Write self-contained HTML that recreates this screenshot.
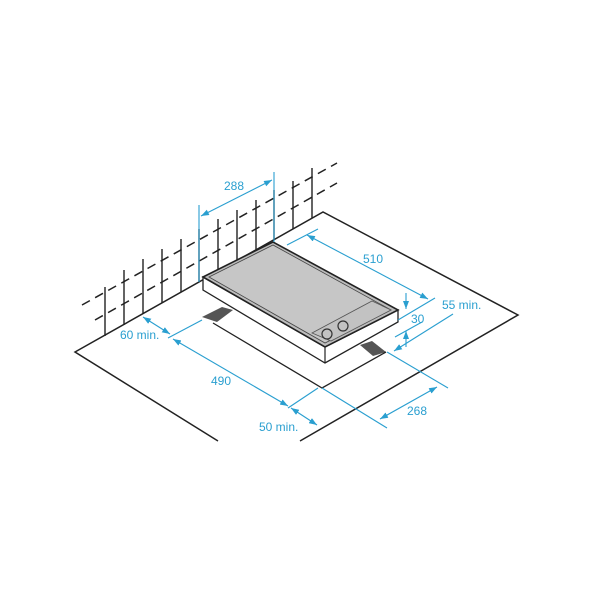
<!DOCTYPE html>
<html><head><style>html,body{margin:0;padding:0;background:#fff}svg{display:block}</style></head>
<body>
<svg width="600" height="600" viewBox="0 0 600 600" xmlns="http://www.w3.org/2000/svg" font-family="Liberation Sans, sans-serif">
<defs>
<marker id="a" markerWidth="8" markerHeight="6" refX="8" refY="3" orient="auto-start-reverse" markerUnits="userSpaceOnUse"><path d="M0,0 L8,3 L0,6z" fill="#2a9fd0"/></marker>
</defs>
<g stroke="#222" stroke-width="1.5" fill="none">
<polyline points="218,441 75,352 323,212 518,315 300,441"/>
<line x1="82" y1="305" x2="337" y2="163" stroke-dasharray="9,6"/>
<line x1="95" y1="320" x2="337" y2="183" stroke-dasharray="9,6"/>
</g>
<g stroke="#222" stroke-width="1.4">
<line x1="105" y1="336" x2="105" y2="287"/>
<line x1="124" y1="325" x2="124" y2="270"/>
<line x1="143" y1="314" x2="143" y2="259"/>
<line x1="162" y1="303" x2="162" y2="249"/>
<line x1="181" y1="292" x2="181" y2="239"/>
<line x1="199" y1="282" x2="199" y2="229"/>
<line x1="218" y1="271" x2="218" y2="219"/>
<line x1="237" y1="261" x2="237" y2="210"/>
<line x1="256" y1="250" x2="256" y2="200"/>
<line x1="274" y1="240" x2="274" y2="190"/>
<line x1="293" y1="229" x2="293" y2="181"/>
<line x1="312" y1="218" x2="312" y2="168"/>
</g>
<path d="M202,317 L222,307 L233,310 L217,322z" fill="#555"/>
<path d="M360,345 L372,341 L386,352 L373,356z" fill="#555"/>
<g stroke="#222" stroke-width="1.3" fill="none">
<polyline points="213,323 322,388 386,352"/>
</g>
<path d="M203,277 L203,290 L325,363 L398,322 L398,310 L325,347z" fill="#fff" stroke="#222" stroke-width="1.3"/>
<line x1="325" y1="347" x2="325" y2="363" stroke="#222" stroke-width="1.2"/>
<path d="M203,277 L273,242 L398,310 L325,347z" fill="#bdbdbd" stroke="#222" stroke-width="1.6"/>
<path d="M209,277 L273,245 L391,310 L325,343z" fill="#c6c6c6" stroke="#444" stroke-width="0.8"/>
<path d="M312,333 L372,301 L391,310 L331,341z" fill="#c2c2c2" stroke="#555" stroke-width="0.8"/>
<circle cx="327" cy="334" r="5" fill="none" stroke="#333" stroke-width="1.2"/>
<circle cx="343" cy="326" r="5" fill="none" stroke="#333" stroke-width="1.2"/>
<g stroke="#2a9fd0" stroke-width="1.1" fill="none">
<line x1="199" y1="205" x2="199" y2="282"/>
<line x1="274" y1="172" x2="274" y2="242"/>
<line x1="201" y1="216" x2="272" y2="180" marker-start="url(#a)" marker-end="url(#a)"/>
<line x1="287" y1="245" x2="318" y2="229"/>
<line x1="307" y1="235" x2="428" y2="299" marker-start="url(#a)" marker-end="url(#a)"/>
<line x1="398" y1="320" x2="435" y2="298"/>
<line x1="406" y1="293" x2="406" y2="309" marker-end="url(#a)"/>
<line x1="406" y1="347" x2="406" y2="331" marker-end="url(#a)"/>
<line x1="395" y1="337" x2="422" y2="322"/>
<line x1="453" y1="314" x2="394" y2="351" marker-end="url(#a)"/>
<line x1="387" y1="352" x2="448" y2="388"/>
<line x1="322" y1="388" x2="387" y2="428"/>
<line x1="380" y1="419" x2="437" y2="387" marker-start="url(#a)" marker-end="url(#a)"/>
<line x1="143" y1="317" x2="170" y2="334" marker-start="url(#a)" marker-end="url(#a)"/>
<line x1="168" y1="338" x2="202" y2="320"/>
<line x1="173" y1="339" x2="288" y2="406" marker-start="url(#a)" marker-end="url(#a)"/>
<line x1="288" y1="408" x2="318" y2="388"/>
<line x1="291" y1="408" x2="317" y2="425" marker-start="url(#a)" marker-end="url(#a)"/>
</g>
<g fill="#2a9fd0" font-size="12">
<text x="224" y="190">288</text>
<text x="363" y="263">510</text>
<text x="411" y="323">30</text>
<text x="442" y="309">55 min.</text>
<text x="407" y="415">268</text>
<text x="211" y="385">490</text>
<text x="120" y="339">60 min.</text>
<text x="259" y="431">50 min.</text>
</g>
</svg>
</body></html>
